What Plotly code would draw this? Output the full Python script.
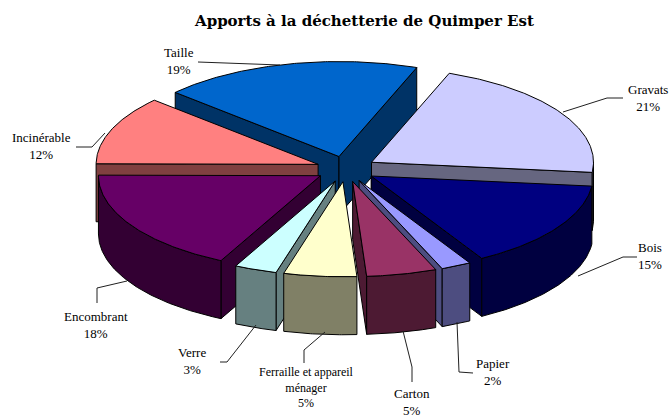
import math
import plotly.graph_objects as go

categories = ["Gravats", "Bois", "Papier", "Carton", "Ferraille et appareil<br>ménager", "Verre", "Encombrant", "Incinérable", "Taille"]
values = [21.0, 15.0, 2.2, 5.1, 5.3, 3.1, 17.7, 11.7, 18.9]
top_colors = ["#ccccff", "#000080", "#9999ff", "#993366", "#ffffcc", "#ccffff", "#660066", "#ff8080", "#0066cc"]
side_colors = ["#666680", "#000040", "#4d4d80", "#4d1a33", "#808066", "#668080", "#330033", "#804040", "#003366"]

# projection of the exploded 3D pie (page pixels)
CX, CY = 346, 169
RX, RY = 222, 95
DEPTH = 58
EXPLODE = 0.135
START = 20.5
OUTLINE = "#000000"

label_x = [648, 650, 493, 412, 306, 192, 96, 41, 179]
label_y = [98, 256, 372, 402, 387, 361, 325, 146, 61]
label_size = [13, 13, 13, 13, 12, 13, 13, 13, 13]

leader_x = [[563, 607, 623], [578, 623, 637], [457, 459, 473], [403, 412, 412], [325, 304, 304], [256, 227, 220], [127, 97, 97], [105, 92, 76], [280, 222, 198]]
leader_y = [[112, 98, 98], [276, 257, 257], [322, 372, 373], [331, 367, 382], [332, 350, 363], [325, 362, 362], [281, 288, 303], [133, 147, 147], [65, 63, 62]]


def pt(theta, ox, oy, dz=0.0):
    r = math.radians(theta)
    return ox + RX * math.sin(r), oy - RY * math.cos(r) + dz


def poly(fig, pts, color):
    xs = [p[0] for p in pts] + [pts[0][0]]
    ys = [p[1] for p in pts] + [pts[0][1]]
    fig.add_trace(go.Scatter(x=xs, y=ys, mode="lines", fill="toself", fillcolor=color,
                             line=dict(color=OUTLINE, width=1), hoverinfo="skip", showlegend=False))


total = sum(values)
slices = []
a = START
for name, v, top, side in zip(categories, values, top_colors, side_colors):
    sweep = 360 * v / total
    slices.append((a, a + sweep, top, side))
    a += sweep

fig = go.Figure()
for a0, a1, top, side in sorted(slices, key=lambda s: -math.cos(math.radians((s[0] + s[1]) / 2))):
    mid = math.radians((a0 + a1) / 2)
    ox = CX + EXPLODE * RX * math.sin(mid)
    oy = CY - EXPLODE * RY * math.cos(mid)
    n = max(int(a1 - a0) * 2, 4)
    arc = [a0 + (a1 - a0) * i / n for i in range(n + 1)]
    # only the radial walls that face the viewer
    if math.sin(math.radians(a0)) < 0:
        poly(fig, [(ox, oy), pt(a0, ox, oy), pt(a0, ox, oy, DEPTH), (ox, oy + DEPTH)], side)
    if math.sin(math.radians(a1)) > 0:
        poly(fig, [(ox, oy), pt(a1, ox, oy), pt(a1, ox, oy, DEPTH), (ox, oy + DEPTH)], side)
    front = [t for t in arc if 90 <= t % 360 <= 270]
    if len(front) >= 2:
        poly(fig, [pt(t, ox, oy) for t in front] + [pt(t, ox, oy, DEPTH) for t in reversed(front)], side)
    poly(fig, [(ox, oy)] + [pt(t, ox, oy) for t in arc], top)

for lx, ly in zip(leader_x, leader_y):
    fig.add_trace(go.Scatter(x=lx, y=ly, mode="lines", line=dict(color="#202020", width=1),
                             hoverinfo="skip", showlegend=False))

for name, v, x, y, s in zip(categories, values, label_x, label_y, label_size):
    fig.add_annotation(x=x, y=y, text=f"{name}<br>{round(v)}%", showarrow=False, align="center",
                       xanchor="center", yanchor="middle",
                       font=dict(family="Liberation Serif", size=s, color="#000000"))

fig.add_annotation(x=364, y=21, text="<b>Apports à la déchetterie de Quimper Est</b>", showarrow=False,
                   font=dict(family="DejaVu Serif", size=15, color="#000000"))

fig.update_xaxes(range=[0, 669], visible=False, fixedrange=True)
fig.update_yaxes(range=[418, 0], visible=False, fixedrange=True)
fig.update_layout(width=669, height=418, margin=dict(l=0, r=0, t=0, b=0),
                  paper_bgcolor="#ffffff", plot_bgcolor="#ffffff", showlegend=False)
fig.write_html("out.html", post_script="document.body.style.margin='0';document.body.style.overflow='hidden';",
               config={"displayModeBar": False})
